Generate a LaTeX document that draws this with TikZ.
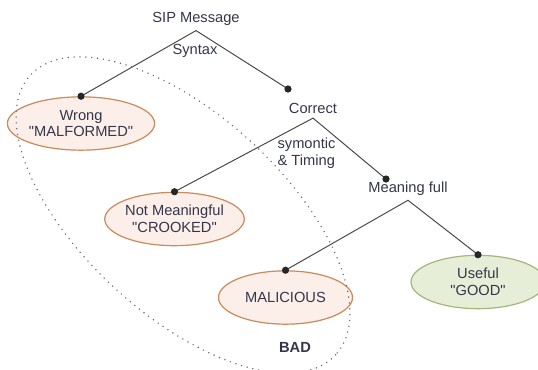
\documentclass[tikz,border=0pt]{standalone}
\usepackage{fontspec}
\setmainfont{Liberation Sans}
\usetikzlibrary{shapes.geometric}
\definecolor{ink}{HTML}{34374A}
\definecolor{wire}{HTML}{4A4A4A}
\definecolor{knot}{HTML}{262626}
\definecolor{badline}{HTML}{C98A5C}
\definecolor{badfill}{HTML}{FCEEE9}
\definecolor{goodline}{HTML}{A2B878}
\definecolor{goodfill}{HTML}{E6EED8}
\definecolor{zone}{HTML}{6A6A74}
\tikzset{
  leaf/.style={ellipse,line width=.9pt,text=ink,
    minimum width=100.5pt,minimum height=40pt,inner sep=0pt,
    align=center,font=\fontsize{11}{12.5}\selectfont},
  badleaf/.style={leaf,draw=badline,fill=badfill},
  goodleaf/.style={leaf,draw=goodline,fill=goodfill},
  split/.style={text=ink,inner xsep=2pt,inner ysep=3.5pt,
    font=\fontsize{11}{13}\selectfont},
  edgetag/.style={text=ink,align=left,inner sep=1pt,
    font=\fontsize{11}{12.5}\selectfont},
  branch/.style={draw=wire,line width=.75pt},
  zoneline/.style={draw=zone,line width=1.2pt,line cap=round,
    dash pattern=on 0pt off 4.4pt}
}

\begin{document}
\begin{tikzpicture}[x=0.75pt,y=-0.75pt]
\useasboundingbox (0,0) rectangle (538,369);
\fill[white] (0,0) rectangle (538,369);

% Decision points
\node[split] (sip) at (196,19) {SIP Message};
\node[split] (correct) at (313,108) {Correct};
\node[split] (meaning) at (408,188.5) {Meaning full};
\coordinate (correcttip) at (288,89);
\coordinate (meaningtip) at (386,179);

% Outcomes
\node[badleaf] (wrong) at (81,123.5)
  {Wrong\\\textquotedbl MALFORMED\textquotedbl};
\node[badleaf] (crooked) at (174.5,219)
  {Not Meaningful\\\textquotedbl CROOKED\textquotedbl};
\node[badleaf] (malicious) at (285.5,297.5) {MALICIOUS};
\node[goodleaf] (good) at (478,282)
  {Useful\\\textquotedbl GOOD\textquotedbl};

% Branches
\draw[branch] (wrong.north) -- (sip.south) -- (correcttip);
\draw[branch] (crooked.north) -- (correct.south) -- (meaningtip);
\draw[branch] (malicious.north) -- (meaning.south) -- (good.north);
\foreach \tip in {wrong.north,correcttip,crooked.north,meaningtip,
                  malicious.north,good.north}
  \fill[knot] (\tip) circle (2.7pt);

\node[edgetag] (syntax) at (195,51) {Syntax};
\node[edgetag,anchor=west] (timing) at (276,153) {symontic\\\& Timing};

% Everything that is not useful
\draw[zoneline,rotate around={-42.5:(183,215)}]
  (183,215) ellipse [x radius=207,y radius=100];
\node[split,font=\fontsize{11}{13}\selectfont\bfseries] (bad) at (295,347) {BAD};

\end{tikzpicture}
\end{document}
